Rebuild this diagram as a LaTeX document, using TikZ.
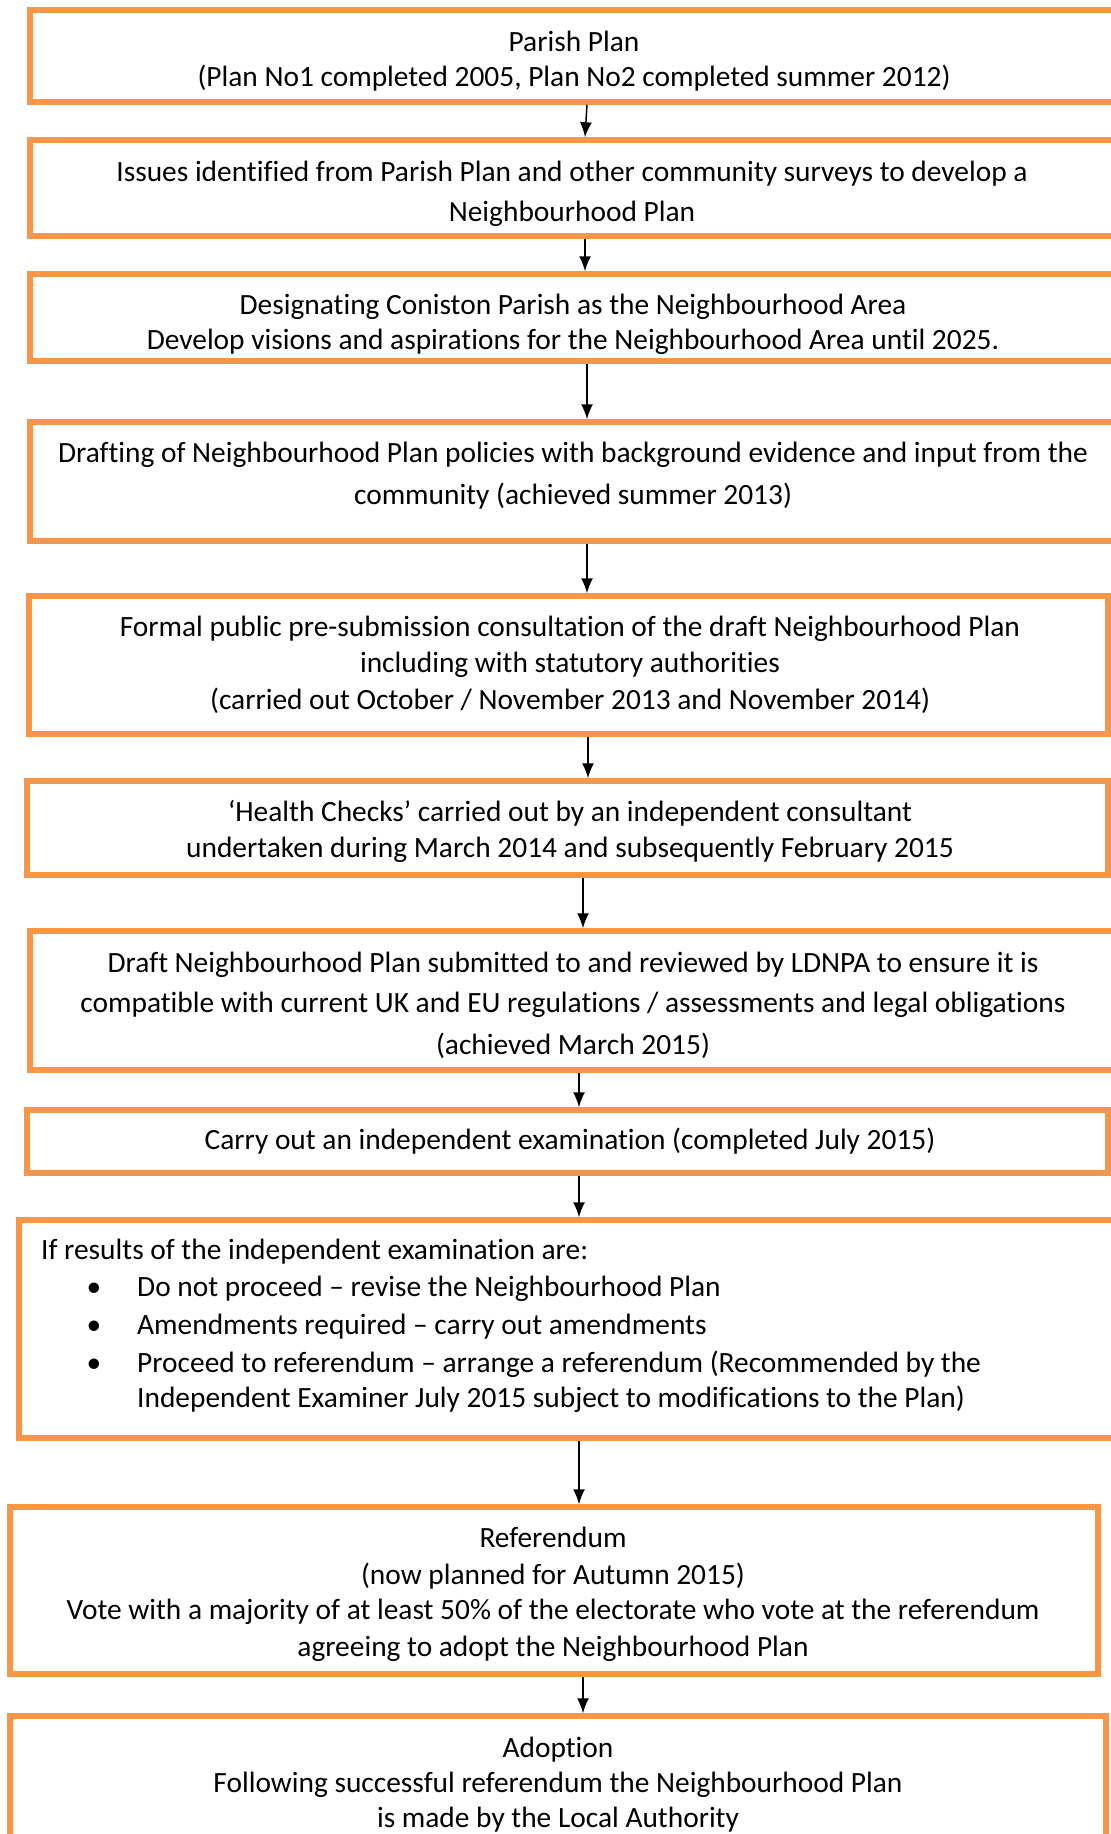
\documentclass[tikz,border=0pt]{standalone}
\usepackage{fontspec}
\setmainfont{Carlito}[Ligatures=NoCommon]
\usetikzlibrary{arrows.meta}
\definecolor{boxorange}{HTML}{F79646}
\begin{document}
\begin{tikzpicture}[x=1pt,y=-1pt,
  stepbox/.style={draw=boxorange, line width=5.5pt, rectangle, inner sep=0pt},
  txt/.style={anchor=base, inner sep=0pt, font=\fontsize{29.4}{36}\selectfont},
  txtl/.style={txt, anchor=base west},
  flow/.style={line width=1.5pt, -{Latex[length=15pt,width=12pt]}}]
\useasboundingbox (0,0) rectangle (1111,1834);
\clip (0,0) rectangle (1111,1834);
\fill[white] (0,0) rectangle (1111,1834);
% boxes
\node[stepbox, minimum width=1088pt, minimum height=92pt]  (b1)  at (574,56) {};
\node[stepbox, minimum width=1088pt, minimum height=96pt]  (b2)  at (574,188) {};
\node[stepbox, minimum width=1088pt, minimum height=87pt]  (b3)  at (574,317.5) {};
\node[stepbox, minimum width=1088pt, minimum height=119pt] (b4)  at (574,481.5) {};
\node[stepbox, minimum width=1079pt, minimum height=138pt] (b5)  at (568.5,665) {};
\node[stepbox, minimum width=1081pt, minimum height=94pt]  (b6)  at (567.5,828) {};
\node[stepbox, minimum width=1088pt, minimum height=139pt] (b7)  at (574,1000.5) {};
\node[stepbox, minimum width=1081pt, minimum height=63pt]  (b8)  at (567.5,1141.5) {};
\node[stepbox, minimum width=1099pt, minimum height=218pt] (b9)  at (568.5,1329) {};
\node[stepbox, minimum width=1088pt, minimum height=167pt] (b10) at (554,1590.5) {};
\node[stepbox, minimum width=1096pt, minimum height=134pt] (b11) at (558,1783) {};
% texts
\node[txt] (t1a) at (574,51) {Parish Plan};
\node[txt] (t1b) at (574,86) {(Plan No1 completed 2005, Plan No2 completed summer 2012)};
\node[txt] (t2a) at (572,181) {Issues identified from Parish Plan and other community surveys to develop a};
\node[txt] (t2b) at (572,221) {Neighbourhood Plan};
\node[txt] (t3a) at (573,314) {Designating Coniston Parish as the Neighbourhood Area};
\node[txt] (t3b) at (573,349) {Develop visions and aspirations for the Neighbourhood Area until 2025.};
\node[txt] (t4a) at (573,462) {Drafting of Neighbourhood Plan policies with background evidence and input from the};
\node[txt] (t4b) at (573,504) {community (achieved summer 2013)};
\node[txt] (t5a) at (570,636) {Formal public pre-submission consultation of the draft Neighbourhood Plan};
\node[txt] (t5b) at (570,672) {including with statutory authorities};
\node[txt] (t5c) at (570,709) {(carried out October / November 2013 and November 2014)};
\node[txt] (t6a) at (570,821) {‘Health Checks’ carried out by an independent consultant};
\node[txt] (t6b) at (570,857) {undertaken during March 2014 and subsequently February 2015};
\node[txt] (t7a) at (573,972) {Draft Neighbourhood Plan submitted to and reviewed by LDNPA to ensure it is};
\node[txt] (t7b) at (573,1012) {compatible with current UK and EU regulations / assessments and legal obligations};
\node[txt] (t7c) at (573,1054) {(achieved March 2015)};
\node[txt] (t8a) at (570,1149) {Carry out an independent examination (completed July 2015)};
\node[txtl] (t9a) at (41,1259) {If results of the independent examination are:};
\node[txt] (u9a) at (94,1296) {•};
\node[txt] (u9b) at (94,1334) {•};
\node[txt] (u9c) at (94,1372) {•};
\node[txtl] (t9b) at (137,1296) {Do not proceed – revise the Neighbourhood Plan};
\node[txtl] (t9c) at (137,1334) {Amendments required – carry out amendments};
\node[txtl] (t9d) at (137,1372) {Proceed to referendum – arrange a referendum (Recommended by the};
\node[txtl] (t9e) at (137,1407) {Independent Examiner July 2015 subject to modifications to the Plan)};
\node[txt] (t10a) at (553,1547) {Referendum};
\node[txt] (t10b) at (553,1584) {(now planned for Autumn 2015)};
\node[txt] (t10c) at (553,1619) {Vote with a majority of at least 50\% of the electorate who vote at the referendum};
\node[txt] (t10d) at (553,1656) {agreeing to adopt the Neighbourhood Plan};
\node[txt] (t11a) at (558,1757) {Adoption};
\node[txt] (t11b) at (558,1792) {Following successful referendum the Neighbourhood Plan};
\node[txt] (t11c) at (558,1827) {is made by the Local Authority};
% arrow columns
\coordinate (x1a) at (587,0);
\coordinate (x1b) at (585,0);
\coordinate (x2) at (585,0);
\coordinate (x3) at (587,0);
\coordinate (x4) at (587,0);
\coordinate (x5) at (588,0);
\coordinate (x6) at (583,0);
\coordinate (x7) at (579,0);
\coordinate (x8) at (579,0);
\coordinate (x9) at (579,0);
\coordinate (x10) at (583,0);
% connectors
\draw[flow] (b1.south -| x1a) -- (b2.north -| x1b);
\draw[flow] (b2.south -| x2) -- (b3.north -| x2);
\draw[flow] (b3.south -| x3) -- (b4.north -| x3);
\draw[flow] (b4.south -| x4) -- (b5.north -| x4);
\draw[flow] (b5.south -| x5) -- (b6.north -| x5);
\draw[flow] (b6.south -| x6) -- (b7.north -| x6);
\draw[flow] (b7.south -| x7) -- (b8.north -| x7);
\draw[flow] (b8.south -| x8) -- (b9.north -| x8);
\draw[flow] (b9.south -| x9) -- (b10.north -| x9);
\draw[flow] (b10.south -| x10) -- (b11.north -| x10);
\end{tikzpicture}
\end{document}
